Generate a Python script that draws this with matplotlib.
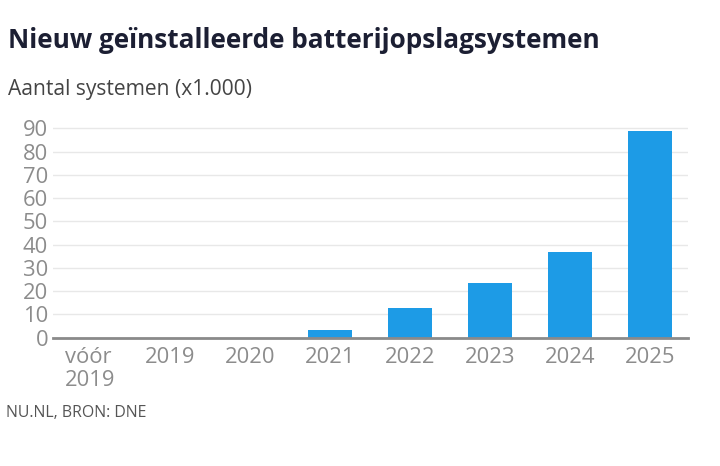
import matplotlib.pyplot as plt
import numpy as np

plt.rcParams['font.family'] = ['Open Sans', 'DejaVu Sans']

# data (x1.000 systems)
labels = ['vóór\n2019', '2019', '2020', '2021', '2022', '2023', '2024', '2025']
values = [0, 0, 0, 3.3, 12.8, 23.5, 36.8, 89]
yticks = [0, 10, 20, 30, 40, 50, 60, 70, 80, 90]

fig = plt.figure(figsize=(7.2, 4.66), dpi=100)
ax = fig.add_axes([53/720, 1-337.7/466, (688-53)/720, (337.7-128.3)/466*100/90])

x = np.arange(len(labels))
ax.bar(x, values, width=0.55, color='#1d9be6', zorder=3)

ax.set_xlim(-0.4625, 7.475)
ax.set_ylim(0, 100)
ax.set_yticks(yticks)
ax.set_xticks(x)
ax.set_xticklabels(labels, ha='center', va='top', multialignment='left', linespacing=1.15)
ax.tick_params(axis='both', length=0, labelsize=15.8, colors='#8c8c8c')
ax.tick_params(axis='y', pad=3.5)
ax.tick_params(axis='x', pad=6.5)

ax.yaxis.grid(True, color='#e8e8e8', lw=1, zorder=0)
for s in ['top', 'right', 'left']:
    ax.spines[s].set_visible(False)
ax.spines['bottom'].set_color('#8a8a8a')
ax.spines['bottom'].set_linewidth(2)
ax.spines['bottom'].set_zorder(4)

fig.text(8/720, 1-41/466, 'Nieuw geïnstalleerde batterijopslagsystemen', fontsize=18.8,
         fontweight='bold', color='#1c1f33', va='center', ha='left')
fig.text(8/720, 1-89/466, 'Aantal systemen (x1.000)', fontsize=15.1, color='#444444',
         va='center', ha='left')
fig.text(6/720, 1-413/466, 'NU.NL, BRON: DNE', fontsize=11.4, color='#555555',
         va='center', ha='left')

fig.savefig('out.png', dpi=100, facecolor='white')
